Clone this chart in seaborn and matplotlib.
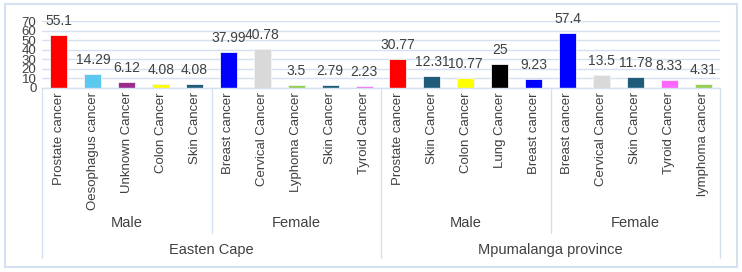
import matplotlib
matplotlib.use("Agg")
import matplotlib.pyplot as plt
import matplotlib.transforms as mtrans
from matplotlib.patches import Rectangle
import seaborn as sns
import pandas as pd

# chart data
cancers = ["Prostate cancer", "Oesophagus cancer", "Unknown Cancer", "Colon Cancer", "Skin Cancer",
           "Breast cancer", "Cervical Cancer", "Lyphoma Cancer", "Skin Cancer", "Tyroid Cancer",
           "Prostate cancer", "Skin Cancer", "Colon Cancer", "Lung Cancer", "Breast cancer",
           "Breast cancer", "Cervical Cancer", "Skin Cancer", "Tyroid Cancer", "lymphoma cancer"]
values = [55.1, 14.29, 6.12, 4.08, 4.08,
          37.99, 40.78, 3.5, 2.79, 2.23,
          30.77, 12.31, 10.77, 25, 9.23,
          57.4, 13.5, 11.78, 8.33, 4.31]
value_labels = ["55.1", "14.29", "6.12", "4.08", "4.08",
                "37.99", "40.78", "3.5", "2.79", "2.23",
                "30.77", "12.31", "10.77", "25", "9.23",
                "57.4", "13.5", "11.78", "8.33", "4.31"]
bar_colors = ["#FF0000", "#5BC8F0", "#9B2C8E", "#FFFF00", "#1F5C7A",
              "#0000FF", "#D9D9D9", "#92D050", "#1F5C7A", "#FF66FF",
              "#FF0000", "#1F5C7A", "#FFFF00", "#000000", "#0000FF",
              "#0000FF", "#D9D9D9", "#1F5C7A", "#FF66FF", "#92D050"]
sexes = ["Male", "Female", "Male", "Female"]
provinces = ["Easten Cape", "Mpumalanga province"]
y_ticks = [0, 10, 20, 30, 40, 50, 60, 70]

df = pd.DataFrame({"key": [str(i) for i in range(len(values))],
                   "cancer": cancers, "value": values})

sns.set_theme(style="white")
plt.rcParams["font.family"] = ["Liberation Sans", "DejaVu Sans"]
text_col = "#404040"
line_col = "#D3E1F3"

fig = plt.figure(figsize=(7.42, 2.72), dpi=100)
ax = fig.add_axes([42 / 742, 184 / 272, 678 / 742, 67 / 272])

sns.barplot(data=df, x="key", y="value", hue="key", palette=bar_colors,
            legend=False, width=0.5, saturation=1, ax=ax,
            edgecolor="#F2F2F2", linewidth=0.6)

ax.set_ylim(0, 70)
ax.set_xlim(-0.5, len(values) - 0.5)
ax.set_yticks(y_ticks)
ax.set_yticklabels([str(t) for t in y_ticks], fontsize=9.5, color=text_col)
ax.set_xticks(range(len(values)))
ax.set_xticklabels(cancers, rotation=90, fontsize=9.5, color=text_col, va="top")
ax.tick_params(axis="both", length=0, pad=3)
ax.tick_params(axis="y", pad=4)
ax.set_xlabel("")
ax.set_ylabel("")
ax.yaxis.grid(True, color=line_col, linewidth=1)
ax.set_axisbelow(True)
for s in ["top", "right", "left"]:
    ax.spines[s].set_visible(False)
ax.spines["bottom"].set_color(line_col)
ax.spines["bottom"].set_linewidth(1)

for i, (v, lab) in enumerate(zip(values, value_labels)):
    ax.annotate(lab, (i, v), xytext=(0, 10), textcoords="offset points",
                ha="center", va="center", fontsize=10, color=text_col,
                annotation_clip=False)

# group separators and labels below the axis
trans = mtrans.blended_transform_factory(ax.transData, fig.transFigure)
for x in [-0.5, 9.5, 19.5]:
    ax.plot([x, x], [184 / 272, 14 / 272], transform=trans, color=line_col,
            linewidth=1, clip_on=False)
for x in [4.5, 14.5]:
    ax.plot([x, x], [184 / 272, 39 / 272], transform=trans, color=line_col,
            linewidth=1, clip_on=False)
for k, sex in enumerate(sexes):
    ax.text(k * 5 + 2, 49 / 272, sex, transform=trans, ha="center", va="center",
            fontsize=10.5, color=text_col)
for k, prov in enumerate(provinces):
    ax.text(k * 10 + 4.5, 22 / 272, prov, transform=trans, ha="center", va="center",
            fontsize=10.5, color=text_col)

fig.patches.append(Rectangle((5 / 742, 5 / 272), 732 / 742, 263 / 272,
                             transform=fig.transFigure, fill=False,
                             edgecolor=line_col, linewidth=1.5))

fig.savefig("out.png", dpi=100)
